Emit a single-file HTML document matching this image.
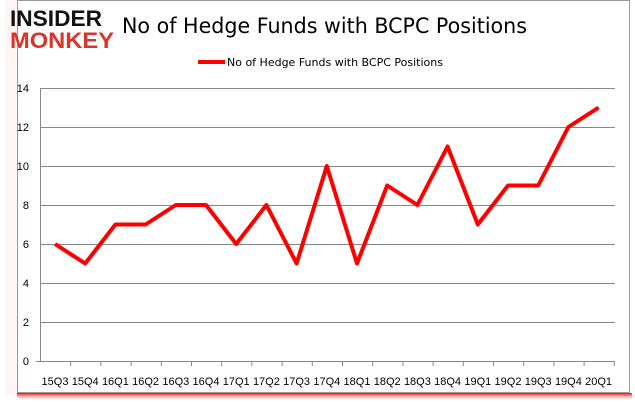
<!DOCTYPE html>
<html><head><style>
body{margin:0;background:#fff;width:635px;height:405px;overflow:hidden;font-family:"Liberation Sans",sans-serif}
</style></head><body>
<svg width="635" height="405" xmlns="http://www.w3.org/2000/svg">
<defs><linearGradient id="sh" x1="0" y1="0" x2="0" y2="1"><stop offset="0" stop-color="#f00"/><stop offset="1" stop-color="#fff" stop-opacity="0"/></linearGradient></defs>
<rect x="17" y="393" width="615" height="8" fill="url(#sh)"/>
<rect x="5" y="0" width="12" height="395" fill="#fee" opacity="0.6"/>
<rect x="17.5" y="0.5" width="612" height="392" fill="#fff" stroke="#999"/>
<text x="10" y="26" font-size="22" font-weight="bold" fill="#111" textLength="92" lengthAdjust="spacingAndGlyphs">INSIDER</text>
<text x="10" y="48" font-size="22" font-weight="bold" fill="#d9352b" textLength="104" lengthAdjust="spacingAndGlyphs">MONKEY</text>
<text x="122" y="33" font-size="21" fill="#000" font-family="'DejaVu Sans',sans-serif" textLength="405" lengthAdjust="spacingAndGlyphs">No of Hedge Funds with BCPC Positions</text>
<line x1="198" y1="62" x2="225" y2="62" stroke="#f00" stroke-width="4"/>
<text x="227" y="66" font-size="11" fill="#000" font-family="'DejaVu Sans',sans-serif">No of Hedge Funds with BCPC Positions</text>
<g stroke="#888" stroke-width="1">
<line x1="40" y1="88.5" x2="615" y2="88.5"/>
<line x1="40" y1="127.5" x2="615" y2="127.5"/>
<line x1="40" y1="166.5" x2="615" y2="166.5"/>
<line x1="40" y1="205.5" x2="615" y2="205.5"/>
<line x1="40" y1="244.5" x2="615" y2="244.5"/>
<line x1="40" y1="283.5" x2="615" y2="283.5"/>
<line x1="40" y1="322.5" x2="615" y2="322.5"/>
<line x1="40.5" y1="88" x2="40.5" y2="361"/>
<line x1="36" y1="361.5" x2="615" y2="361.5"/>
</g>
<g font-size="11" fill="#000" text-anchor="end">
<text x="29" y="92">14</text><text x="29" y="131">12</text><text x="29" y="170">10</text><text x="29" y="209">8</text><text x="29" y="248">6</text><text x="29" y="287">4</text><text x="29" y="326">2</text><text x="29" y="365">0</text>
</g>
<g id="t" stroke="#888"></g>
<g font-size="11" fill="#000" text-anchor="middle" id="xl"></g>
<polyline id="pl" fill="none" stroke="#f00" stroke-width="4" stroke-linejoin="round"/>
<script>
var d=[6,5,7,7,8,8,6,8,5,10,5,9,8,11,7,9,9,12,13];
var l=["15Q3","15Q4","16Q1","16Q2","16Q3","16Q4","17Q1","17Q2","17Q3","17Q4","18Q1","18Q2","18Q3","18Q4","19Q1","19Q2","19Q3","19Q4","20Q1"];
var ns="http://www.w3.org/2000/svg",p=[],t=document.getElementById("t"),xl=document.getElementById("xl");
for(var i=0;i<19;i++){var x=55+i*30.2;p.push(x+","+(361-d[i]*19.5));
var tk=document.createElementNS(ns,"line");var tx=40.5+(i+1)*30.2;tk.setAttribute("x1",tx);tk.setAttribute("x2",tx);tk.setAttribute("y1",361);tk.setAttribute("y2",366);t.appendChild(tk);
var tt=document.createElementNS(ns,"text");tt.setAttribute("x",x);tt.setAttribute("y",385);tt.textContent=l[i];xl.appendChild(tt);}
document.getElementById("pl").setAttribute("points",p.join(" "));
</script>
</svg>
</body></html>
